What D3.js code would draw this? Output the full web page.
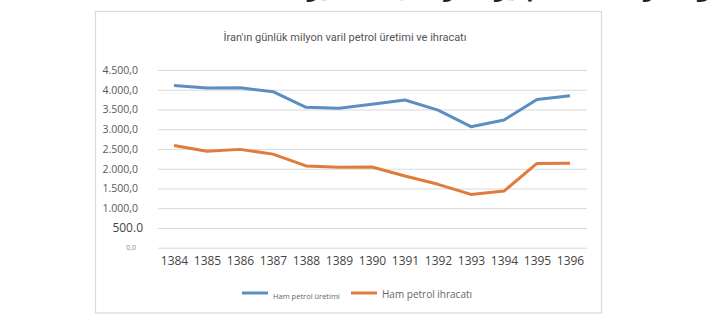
<!DOCTYPE html>
<html><head><meta charset="utf-8">
<script src="https://cdn.jsdelivr.net/npm/d3@7"></script>
<style>body{margin:0;background:#fff}svg{display:block}</style>
</head><body>
<script>
const years = ["1384","1385","1386","1387","1388","1389","1390","1391","1392","1393","1394","1395","1396"];
const production = [4110,4045,4050,3950,3555,3530,3630,3740,3485,3065,3235,3755,3850];
const exports_ = [2590,2440,2490,2370,2070,2035,2045,1815,1605,1350,1435,2135,2140];
const yTicks = [0,500,1000,1500,2000,2500,3000,3500,4000,4500];
const yTickLabels = ["0,0","500.0","1.000,0","1.500,0","2.000,0","2.500,0","3.000,0","3.500,0","4.000,0","4.500,0"];
const seriesNames = ["Ham petrol üretimi","Ham petrol ihracatı"];
const title = "İran'ın günlük milyon varil petrol üretimi ve ihracatı";

const W=720,H=322;
const svg=d3.select("body").append("svg").attr("width",W).attr("height",H);
// clipped heading text at the very top (only its lower part is visible, as in the reference)
svg.append("text").attr("x",535).attr("y",-3).attr("text-anchor","middle")
  .attr("font-family","Noto Sans, DejaVu Sans").attr("font-size",20).attr("font-weight","bold").attr("fill","#222")
  .text("تولید و صادرات نفت خام ایران در سال‌های اخیر");
// frame
svg.append("rect").attr("x",95.5).attr("y",11.5).attr("width",506).attr("height",301.5)
  .attr("fill","#fff").attr("stroke","#d9d9d9").attr("stroke-width",1.2);

const x=d3.scalePoint().domain(years).range([174,570]);
const y=d3.scaleLinear().domain([0,4500]).range([247.7,70]);

// gridlines
const grid=svg.append("g").attr("transform","translate(158,0)")
  .call(d3.axisRight(y).tickValues(yTicks).tickSize(429).tickFormat(""));
grid.select(".domain").remove();
grid.selectAll("line").attr("stroke","#d9d9d9").attr("stroke-width",1);

// y labels
const yl=svg.append("g").attr("transform","translate(138,0)")
  .call(d3.axisLeft(y).tickValues(yTicks).tickSize(0).tickPadding(0).tickFormat((d,i)=>yTickLabels[i]));
yl.select(".domain").remove();
yl.selectAll("text").attr("font-family","Open Sans, sans-serif")
  .attr("fill",d=>d===0?"#888":(d===500?"#444":"#595959"))
  .attr("font-size",d=>d===0?7:(d===500?12:10.5))
  .attr("x",d=>d===0?-2:(d===500?5:0));

// x labels
const xl=svg.append("g").attr("transform","translate(0,256)")
  .call(d3.axisBottom(x).tickSize(0).tickPadding(0));
xl.select(".domain").remove();
xl.selectAll("text").attr("font-family","Open Sans, sans-serif").attr("font-size",12).attr("fill","#444").attr("dy","0.71em");

const colors=["#5b8fc2","#e07c3b"];
const line=d3.line().x((d,i)=>x(years[i])).y(d=>y(d));
[production,exports_].forEach((s,k)=>{
  svg.append("path").datum(s).attr("d",line).attr("fill","none")
    .attr("stroke",colors[k]).attr("stroke-width",3).attr("stroke-linejoin","round");
});

// title
svg.append("text").attr("x",345).attr("y",41).attr("text-anchor","middle")
  .attr("font-family","Roboto, sans-serif").attr("font-size",11).attr("fill","#555").text(title);

// legend
const leg=[{x1:242,tx:273,fs:7.5},{x1:351,tx:382,fs:10}];
leg.forEach((l,k)=>{
  svg.append("line").attr("x1",l.x1).attr("x2",l.x1+26).attr("y1",293).attr("y2",293)
    .attr("stroke",colors[k]).attr("stroke-width",3);
  svg.append("text").attr("x",l.tx).attr("y",k===0?299:298).attr("font-family","Open Sans, sans-serif")
    .attr("font-size",l.fs).attr("fill","#666").text(seriesNames[k]);
});
</script>
</body></html>
